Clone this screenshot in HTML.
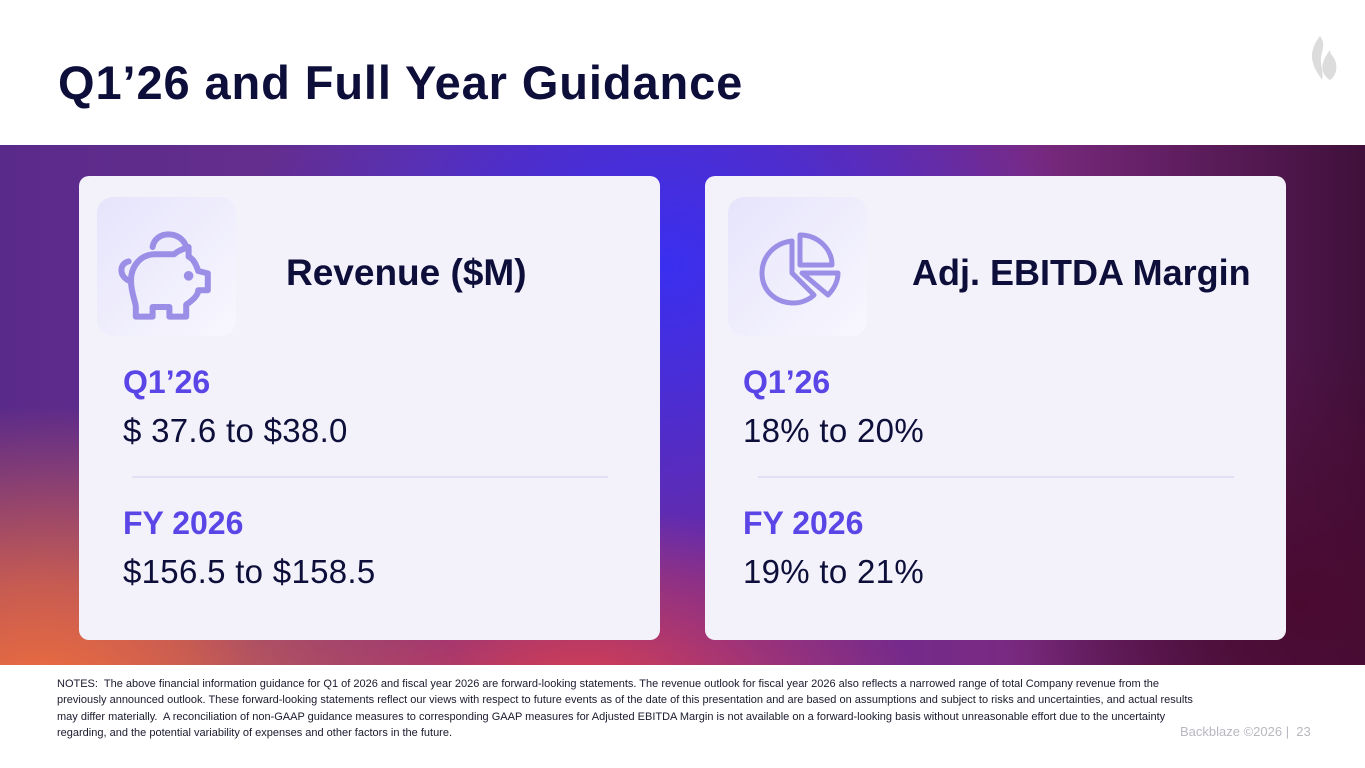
<!DOCTYPE html>
<html><head><meta charset="utf-8"><style>
*{margin:0;padding:0;box-sizing:border-box}
body{width:1365px;height:768px;overflow:hidden;background:#fff;font-family:"Liberation Sans",sans-serif;position:relative;color:#0d0f3a}
.title{position:absolute;left:58px;top:55px;font-size:47px;font-weight:bold;letter-spacing:0.9px}
.band{position:absolute;left:0;top:145px;width:1365px;height:520px;
background:
radial-gradient(ellipse 420px 300px at 40px 560px,#f4703a 0%,rgba(244,112,58,0.7) 40%,rgba(244,112,58,0) 100%),
radial-gradient(ellipse 340px 200px at 580px 560px,#e0404a 0%,rgba(224,64,74,0) 100%),
radial-gradient(ellipse 420px 320px at 660px 120px,#3a2ff0 0%,rgba(58,47,240,0.6) 45%,rgba(58,47,240,0) 100%),
radial-gradient(ellipse 300px 260px at 1300px 460px,#4a0a30 0%,rgba(74,10,48,0) 100%),
linear-gradient(90deg,#5a2a8a 0%,#6a3090 30%,#6a2aa0 50%,#7a2a80 75%,#40103a 100%)}
.card{position:absolute;top:176px;width:581px;height:464px;background:#f3f2fb;border-radius:10px}
.icon{position:absolute;left:18px;top:21px;width:139px;height:139px;border-radius:16px;background:linear-gradient(135deg,#e6e4fb,#f8f7fe)}
.head{position:absolute;top:76px;font-size:37px;font-weight:bold}
.lab{position:absolute;left:44px;font-size:32px;font-weight:bold;color:#5a45e6}
.val{position:absolute;left:44px;font-size:33px;letter-spacing:0.3px}
.div{position:absolute;left:53px;width:476px;height:2px;background:#e2e0f4;top:300px}
.notes{position:absolute;left:57px;top:676px;width:1140px;font-size:11px;line-height:16.3px;color:#1a1a2e}
.foot{position:absolute;left:1180px;top:724px;font-size:13px;color:#b8b8c0}
</style></head><body>
<div class="title">Q1’26 and Full Year Guidance</div>
<svg style="position:absolute;left:1308px;top:34px" width="30" height="50" viewBox="0 0 30 50">
<path d="M12 2 C4 12 2 22 6 32 C8 38 12 42 14 46 C16 38 12 30 13 24 C14 16 18 10 12 2Z" fill="#dcdcdc"/>
<path d="M22 16 C16 24 12 32 16 40 C18 43 20 45 22 46 C28 42 30 34 27 26 C25 22 22 20 22 16Z" fill="#dcdcdc"/>
</svg>
<div class="band"></div>
<div class="card" style="left:79px">
<div class="icon">
<svg width="139" height="139" viewBox="0 0 139 139" fill="none" stroke="#9b8ee6" stroke-width="5" stroke-linecap="round" stroke-linejoin="round">
<g transform="translate(-14,-10) scale(1.2)">
<path d="M58 50 C60 36 82 36 86 50"/>
<path d="M38 62 C30 64 30 74 38 78"/>
<path d="M44 100 L44 108 L58 108 L58 100 L72 100 L72 108 L86 108 L86 98 C92 94 96 90 96 86 L104 86 L104 72 L96 70 C94 64 92 60 88 58 L88 50 C82 52 78 54 76 56 L60 56 C48 56 40 66 40 78 C40 88 44 96 44 100Z"/>
<circle cx="88" cy="74" r="1.5" fill="#9b8ee6"/>
</g></svg></div>
<div class="head" style="left:207px">Revenue ($M)</div>
<div class="lab" style="top:188px">Q1’26</div>
<div class="val" style="top:236px">$ 37.6 to $38.0</div>
<div class="div"></div>
<div class="lab" style="top:329px">FY 2026</div>
<div class="val" style="top:377px">$156.5 to $158.5</div>
</div>
<div class="card" style="left:705px">
<div class="icon" style="left:23px">
<svg width="139" height="139" viewBox="0 0 139 139" fill="none" stroke="#9b8ee6" stroke-width="5" stroke-linejoin="round">
<path d="M64 44 C46 46 34 60 34 76 C34 94 48 106 66 106 C74 106 82 102 86 98 L64 76Z"/>
<path d="M72 38 L72 68 L104 68 C104 52 90 38 72 38Z"/>
<path d="M74 76 L110 76 C110 84 106 92 100 98Z"/>
</svg></div>
<div class="head" style="left:207px;font-size:36px">Adj. EBITDA Margin</div>
<div class="lab" style="left:38px;top:188px">Q1’26</div>
<div class="val" style="left:38px;top:236px">18% to 20%</div>
<div class="div"></div>
<div class="lab" style="left:38px;top:329px">FY 2026</div>
<div class="val" style="left:38px;top:377px">19% to 21%</div>
</div>
<div class="notes">NOTES:&nbsp; The above financial information guidance for Q1 of 2026 and fiscal year 2026 are forward-looking statements. The revenue outlook for fiscal year 2026 also reflects a narrowed range of total Company revenue from the previously announced outlook. These forward-looking statements reflect our views with respect to future events as of the date of this presentation and are based on assumptions and subject to risks and uncertainties, and actual results may differ materially.&nbsp; A reconciliation of non-GAAP guidance measures to corresponding GAAP measures for Adjusted EBITDA Margin is not available on a forward-looking basis without unreasonable effort due to the uncertainty regarding, and the potential variability of expenses and other factors in the future.</div>
<div class="foot">Backblaze ©2026 |&nbsp; 23</div>
</body></html>
